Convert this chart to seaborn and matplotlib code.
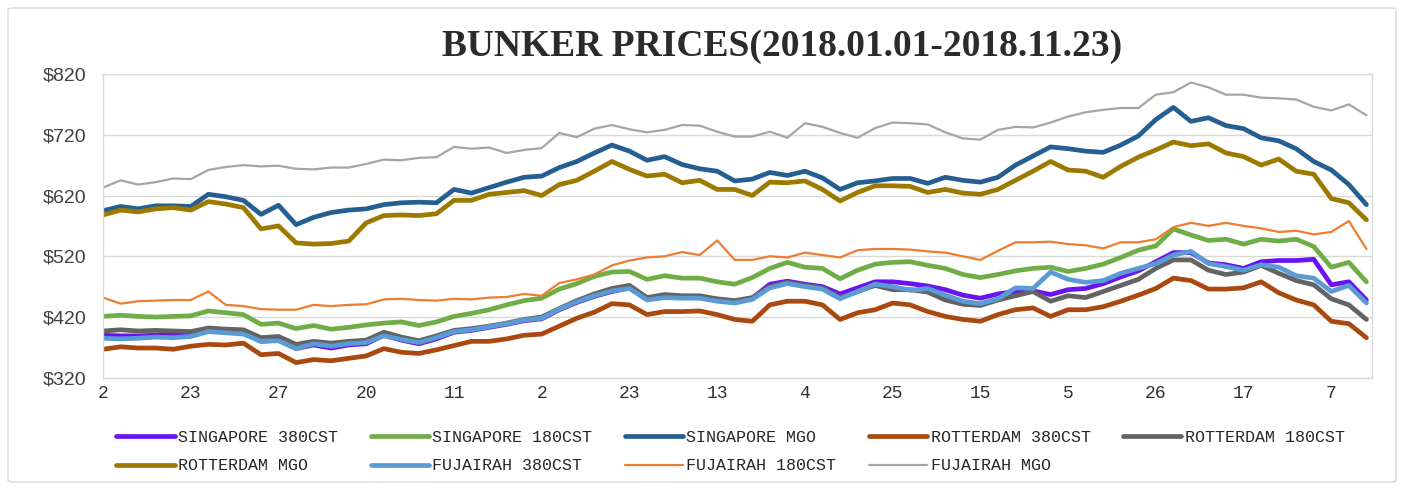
import numpy as np
import pandas as pd
import matplotlib
matplotlib.use("Agg")
import matplotlib.pyplot as plt
import matplotlib.patches as patches
import seaborn as sns

# trading-day index, sampled every 3rd day
day_idx = np.arange(0, 217, 3)

tick_pos = np.arange(0, 211, 15)
tick_labels = ["2", "23", "27", "20", "11", "2", "23", "13", "4", "25", "15", "5", "26", "17", "7"]

sing_380 = [390, 389, 389, 390, 391, 392, 397, 396, 394, 380, 382, 368, 374, 369, 374, 376,
            390, 382, 376, 384, 395, 398, 403, 408, 414, 417, 432, 444, 454, 462,
            468, 450, 454, 453, 452, 448, 445, 451, 474, 479, 474, 470, 458, 468, 478,
            478, 475, 471, 465, 456, 451, 458, 462, 463, 457, 465, 467, 475, 486, 496,
            511, 526, 526, 509, 506, 500, 511, 513, 513, 515, 473, 478, 448]
sing_180 = [421, 423, 421, 420, 421, 422, 430, 427, 424, 408, 410, 401, 406, 400, 403, 407,
            410, 412, 406, 412, 421, 426, 432, 440, 447, 451, 466, 475, 487, 494,
            495, 482, 488, 484, 484, 478, 474, 485, 500, 510, 502, 500, 483, 497, 507,
            510, 511, 505, 500, 490, 485, 490, 496, 500, 502, 495, 500, 507, 518, 530,
            537, 565, 555, 546, 548, 540, 548, 545, 548, 536, 502, 510, 478]
sing_mgo = [595, 602, 598, 603, 603, 602, 622, 618, 612, 589, 604, 572, 584, 592, 596, 598,
            605, 608, 609, 608, 630, 624, 633, 642, 650, 652, 666, 676, 690, 703,
            693, 678, 684, 671, 664, 660, 644, 647, 658, 653, 660, 649, 630, 641, 644,
            648, 648, 640, 650, 645, 642, 650, 670, 685, 700, 697, 693, 691, 703, 718,
            745, 765, 742, 748, 735, 730, 715, 710, 697, 676, 662, 638, 605]
rott_380 = [367, 371, 369, 369, 367, 372, 375, 374, 377, 358, 360, 345, 350, 348, 352, 356,
            368, 362, 360, 366, 373, 380, 380, 384, 390, 392, 405, 418, 428, 442,
            440, 424, 429, 429, 430, 424, 416, 413, 440, 446, 446, 440, 416, 427, 432,
            443, 440, 429, 421, 416, 413, 424, 432, 435, 421, 432, 432, 437, 446, 456,
            467, 484, 480, 466, 466, 468, 478, 460, 448, 440, 413, 409, 386]
rott_180 = [397, 399, 397, 398, 397, 396, 402, 400, 399, 386, 388, 375, 380, 377, 380, 382,
            395, 387, 381, 389, 398, 401, 405, 410, 416, 420, 434, 447, 458, 467,
            472, 452, 457, 455, 455, 450, 447, 452, 470, 477, 472, 468, 452, 462, 472,
            465, 465, 461, 448, 441, 439, 448, 455, 462, 446, 455, 452, 462, 472, 482,
            500, 514, 514, 497, 490, 494, 505, 492, 480, 473, 450, 440, 416]
rott_mgo = [588, 596, 593, 598, 600, 596, 610, 606, 600, 565, 570, 542, 540, 541, 545, 575,
            587, 588, 587, 590, 612, 612, 622, 625, 628, 620, 638, 645, 660, 676,
            663, 652, 655, 641, 645, 630, 630, 620, 642, 641, 644, 630, 611, 625, 636,
            636, 635, 625, 630, 624, 622, 630, 645, 660, 676, 662, 660, 650, 668, 683,
            695, 708, 702, 705, 690, 684, 670, 680, 660, 655, 615, 608, 580]
fuj_380 = [385, 384, 385, 387, 386, 388, 396, 394, 392, 380, 381, 368, 376, 372, 376, 378,
           389, 383, 378, 386, 396, 399, 404, 409, 415, 418, 433, 445, 455, 463,
           467, 448, 452, 451, 451, 446, 443, 449, 468, 475, 470, 466, 450, 462, 474,
           470, 464, 467, 456, 446, 442, 450, 468, 467, 494, 482, 477, 480, 492, 500,
           508, 522, 528, 508, 503, 497, 506, 502, 488, 484, 462, 472, 443]
fuj_180 = [452, 442, 446, 447, 448, 448, 462, 440, 438, 433, 432, 432, 440, 438, 440, 441,
           449, 450, 448, 447, 450, 449, 452, 453, 458, 455, 476, 482, 490, 505,
           513, 518, 520, 527, 522, 546, 514, 514, 520, 518, 526, 522, 518, 530, 532,
           532, 531, 528, 526, 520, 514, 529, 543, 543, 544, 540, 538, 533, 543, 543,
           548, 568, 575, 570, 575, 570, 566, 560, 562, 556, 560, 578, 532]
fuj_mgo = [633, 645, 638, 642, 648, 647, 662, 667, 670, 668, 669, 664, 663, 666, 666, 672,
           679, 678, 682, 683, 700, 697, 699, 690, 695, 698, 723, 716, 730, 736,
           729, 724, 728, 736, 735, 725, 717, 717, 725, 715, 739, 733, 723, 715, 731,
           740, 739, 737, 724, 714, 712, 728, 733, 732, 740, 750, 757, 761, 764, 764,
           786, 790, 806, 798, 786, 786, 781, 780, 778, 766, 760, 770, 752]

series = [
    ("SINGAPORE 380CST", sing_380, "#6A12F2", 3.4),
    ("SINGAPORE 180CST", sing_180, "#70AD47", 3.4),
    ("SINGAPORE MGO", sing_mgo, "#255E91", 3.4),
    ("ROTTERDAM 380CST", rott_380, "#A9480F", 3.4),
    ("ROTTERDAM 180CST", rott_180, "#636363", 3.4),
    ("ROTTERDAM MGO", rott_mgo, "#9C7A00", 3.4),
    ("FUJAIRAH 380CST", fuj_380, "#5B9BD5", 3.4),
    ("FUJAIRAH 180CST", fuj_180, "#ED7D31", 1.6),
    ("FUJAIRAH MGO", fuj_mgo, "#A5A5A5", 1.6),
]

sns.set_style("white")
plt.rcParams["font.family"] = ["Liberation Sans", "DejaVu Sans"]

fig = plt.figure(figsize=(14.06, 4.9), dpi=100)
ax = fig.add_axes([0.0733, 0.229, 0.9027, 0.620])

for name, vals, col, lw in series:
    sns.lineplot(x=day_idx, y=vals, ax=ax, color=col, linewidth=lw, label=name)

ax.set_xlim(0, 217)
ax.set_ylim(320, 820)
ax.set_yticks(np.arange(320, 821, 100))
ax.set_yticklabels([f"${v}" for v in range(320, 821, 100)], fontsize=14, color="#404040")
ax.set_xticks(tick_pos)
ax.set_xticklabels(tick_labels, fontsize=13, family="Liberation Mono", color="#303030")
ax.tick_params(axis="y", length=0, pad=12)
ax.tick_params(axis="x", length=0, pad=5)
ax.grid(axis="y", color="#D9D9D9", linewidth=1)
ax.grid(axis="x", visible=False)
for s in ax.spines.values():
    s.set_color("#D9D9D9")
    s.set_linewidth(1)
ax.set_xlabel("")
ax.set_ylabel("")

# legend fills column by column, so reorder to match the row layout
handles, labels = ax.get_legend_handles_labels()
ax.get_legend().remove()
order = [0, 5, 1, 6, 2, 7, 3, 8, 4]
fig.legend([handles[i] for i in order], [labels[i] for i in order],
           loc="upper left", bbox_to_anchor=(0.078, 0.136), bbox_transform=fig.transFigure,
           ncol=5, frameon=False, prop={"family": "Liberation Mono", "size": 12},
           handlelength=3.5, handletextpad=0.2, columnspacing=1.95, labelspacing=0.8,
           borderaxespad=0)

fig.text(0.556, 0.905, "BUNKER PRICES(2018.01.01-2018.11.23)", ha="center", va="center",
         fontsize=27, fontweight="bold", family="Liberation Serif", color="#2B2B2B")

fig.patches.append(patches.FancyBboxPatch((8 / 1406, 8 / 490), 1388 / 1406, 474 / 490,
                                          boxstyle="round,pad=0,rounding_size=0.004",
                                          transform=fig.transFigure, fill=False,
                                          edgecolor="#D9D9D9", linewidth=1))

fig.savefig("out.png", dpi=100)
